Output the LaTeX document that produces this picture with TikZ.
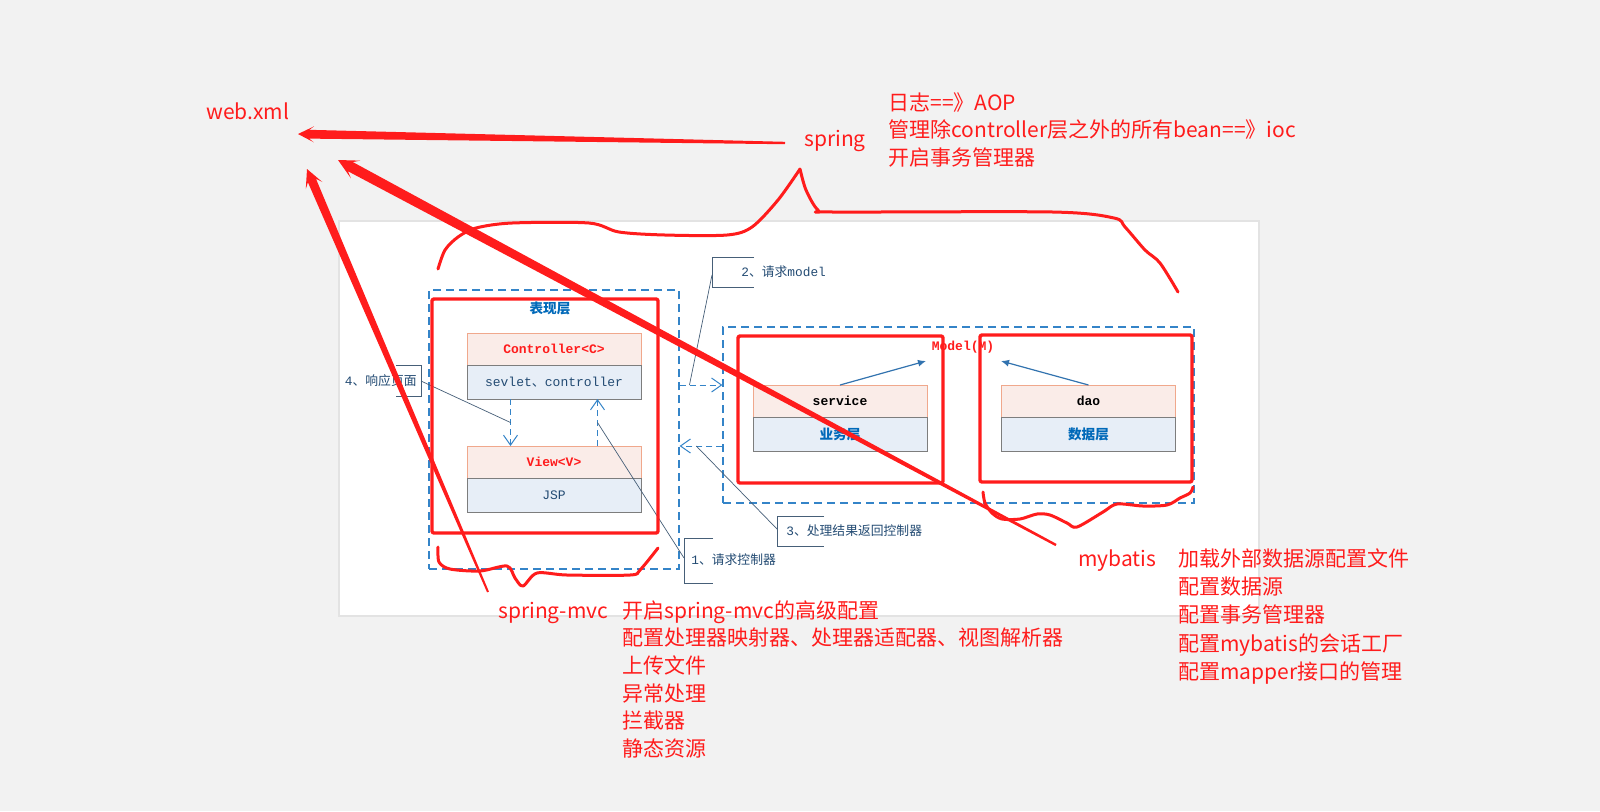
\documentclass[tikz,border=0pt]{standalone}
\usepackage{fontspec}
\setmainfont{Noto Sans CJK SC}
\newfontfamily\mono{Liberation Mono}
\usetikzlibrary{positioning,calc,arrows.meta}

\definecolor{bggray}{RGB}{242,242,242}
\definecolor{penred}{RGB}{255,28,28}
\definecolor{dashblue}{RGB}{52,132,200}
\definecolor{salmon}{RGB}{240,168,140}
\definecolor{pinkfill}{RGB}{250,236,232}
\definecolor{boxgray}{RGB}{125,125,125}
\definecolor{bluefill}{RGB}{231,238,247}
\definecolor{labelblue}{RGB}{0,105,185}
\definecolor{inkblue}{RGB}{35,75,115}
\definecolor{slate}{RGB}{70,95,120}
\definecolor{arrowblue}{RGB}{50,115,175}

\tikzset{
  redbox/.style={draw=penred, line width=1.7pt, line join=round, rounded corners=1pt},
  scrawl/.style={draw=penred, line width=1.5pt, line cap=round, line join=round},
  note/.style={text=penred, inner sep=0pt, align=left, anchor=base west, font=\fontsize{10.5pt}{13.85pt}\selectfont},
  grp/.style={draw=dashblue, dash pattern=on 4pt off 2.5pt, line width=0.6pt, inner sep=0pt},
  headbox/.style={draw=salmon, fill=pinkfill, minimum width=87pt, minimum height=16pt, inner sep=0pt, outer sep=0pt, font=\mono\bfseries\fontsize{6.5pt}{8pt}\selectfont},
  bodybox/.style={draw=boxgray, fill=bluefill, minimum width=87pt, minimum height=17pt, inner sep=0pt, outer sep=0pt, text=inkblue, font=\fontsize{6.5pt}{8pt}\selectfont},
  layerlbl/.style={text=labelblue, font=\bfseries\fontsize{6.8pt}{8pt}\selectfont},
  flow/.style={draw=dashblue, dash pattern=on 3pt off 2pt, line width=0.5pt, -{Straight Barb[length=5pt,width=7pt]}},
  uses/.style={draw=arrowblue, line width=0.6pt, -{Latex[length=4pt,width=3.5pt]}},
  callout/.style={text=inkblue, inner sep=0pt, font=\fontsize{6.4pt}{8pt}\selectfont},
  bracket/.style={draw=slate, line width=0.5pt},
  leader/.style={draw=slate, line width=0.35pt}
}

\newcommand{\brush}[5]{%
  \coordinate (bw) at ($(#2)!2*#5!(#1)$);
  \coordinate (bn) at ($(#2)!1.4*#5!(#1)$);
  \fill[penred] ($(#1)!#3!90:(#2)$) -- ($(bn)!#4!-90:(#1)$) -- ($(bw)!#5!-90:(#1)$) -- (#2)
    -- ($(bw)!#5!90:(#1)$) -- ($(bn)!#4!90:(#1)$) -- ($(#1)!#3!-90:(#2)$) -- cycle;}

\begin{document}
\begin{tikzpicture}[x=0.5pt,y=-0.5pt]
\useasboundingbox (0,0) rectangle (1600,811);
\fill[bggray] (0,0) rectangle (1600,811);
\fill[black!5] (335,217) rectangle (1263,620);
\fill[black!11] (338,220) rectangle (1260,617);
\fill[white] (340,222) rectangle (1258,615);

\node[grp, minimum width=125pt, minimum height=139.5pt] (grpV) at (554,429.5) {};
\node[grp, minimum width=235.5pt, minimum height=88pt] (grpM) at (958.5,415) {};
\node[layerlbl] (presLbl) at (550,308) {表现层};
\node[text=penred, font=\mono\bfseries\fontsize{6.5pt}{8pt}\selectfont] (modelLbl) at (963,347) {Model(M)};

\node[headbox, text=penred] (ctrlT) at (554,349) {Controller<C>};
\node[bodybox, below=0pt of ctrlT] (ctrlB) {\mono sevlet{\rmfamily 、}controller};
\node[headbox, text=penred] (viewT) at (554,462) {View<V>};
\node[bodybox, below=0pt of viewT] (viewB) {\mono JSP};
\node[headbox] (svcT) at (840,401) {service};
\node[bodybox, below=0pt of svcT, layerlbl] (svcB) {业务层};
\node[headbox] (daoT) at (1088.5,401) {dao};
\node[bodybox, below=0pt of daoT, layerlbl] (daoB) {数据层};

\draw[flow] ($(ctrlB.south west)!0.25!(ctrlB.south east)$) -- coordinate (dnMid) ($(viewT.north west)!0.25!(viewT.north east)$);
\draw[flow] ($(viewT.north west)!0.75!(viewT.north east)$) -- coordinate (upMid) ($(ctrlB.south west)!0.75!(ctrlB.south east)$);
\draw[flow] (grpV.east |- 0,385) -- coordinate[pos=0.23] (reqMid) (grpM.west |- 0,385);
\draw[flow] (grpM.west |- 0,446) -- coordinate[pos=0.61] (retMid) (grpV.east |- 0,446);
\draw[uses] (svcT.north) -- ($(modelLbl)+(-37,14)$);
\draw[uses] (daoT.north) -- ($(modelLbl)+(38,14)$);

\node[callout, anchor=west] (c1) at (691,560) {{\mono 1}、请求控制器};
\node[callout, anchor=west] (c2) at (741,272) {{\mono 2}、请求{\mono model}};
\node[callout, anchor=west] (c3) at (786,531) {{\mono 3}、处理结果返回控制器};
\node[callout, anchor=east] (c4) at (417,381) {{\mono 4}、响应页面};
\draw[bracket] (713,538) -| (684,583) -- (713,583);
\draw[bracket] (754,257) -| (712,287) -- (754,287);
\draw[bracket] (824,516) -| (777,546) -- (824,546);
\draw[bracket] (396,365) -| (421,396) -- (396,396);
\draw[leader] (684,558) -- (upMid);
\draw[leader] (712,275) -- (reqMid);
\draw[leader] (777,529) -- (retMid);
\draw[leader] (421,381) -- (dnMid);

\draw[redbox] (432,299) rectangle (658,533);
\draw[redbox] (738,336) rectangle (943,483);
\draw[redbox] (980,335) rectangle (1192,482);

\draw[scrawl] plot[smooth, tension=0.5] coordinates {(438,269) (445,250) (458,237) (476,228) (512,223) (589,223) (619,232) (665,235) (727,235) (752,227) (778,200) (800,169)};
\draw[scrawl] plot[smooth, tension=0.5] coordinates {(800,169) (806,190) (818,210) (834,212) (1053,212) (1114,218) (1125,227) (1145,250) (1160,263) (1178,292)};
\draw[scrawl] plot[smooth, tension=0.5] coordinates {(438,547) (439,562) (450,569) (480,571) (507,566) (515,578) (523,586) (537,573) (567,575) (630,575) (640,570) (658,548)};
\draw[scrawl] plot[smooth, tension=0.5] coordinates {(983,492) (985,503) (992,513) (1002,519) (1020,519) (1037,514) (1050,515) (1067,523) (1077,527) (1103,512) (1117,504) (1143,506) (1167,505) (1180,498) (1190,493) (1193,487)};

\node[note] (webxml) at (206,119) {web.xml};
\node[note] (springLbl) at (804,146) {spring};
\node[note] (springNotes) at (888,165.5) {日志==》AOP\\管理除controller层之外的所有bean==》ioc\\开启事务管理器};
\node[note] (mvcLbl) at (498,618) {spring-mvc};
\node[note] (mvcNotes) at (622,756.5) {开启spring-mvc的高级配置\\配置处理器映射器、处理器适配器、视图解析器\\上传文件\\异常处理\\拦截器\\静态资源};
\node[note] (mybLbl) at (1078,566) {mybatis};
\node[note, font=\fontsize{10.5pt}{14.2pt}\selectfont] (mybNotes) at (1178,679.6) {加载外部数据源配置文件\\配置数据源\\配置事务管理器\\配置mybatis的会话工厂\\配置mapper接口的管理};

\coordinate (springTail) at (785,143);
\coordinate (springTip) at (298,134);
\coordinate (mybTail) at (1056,545);
\coordinate (mybTip) at (338,160);
\coordinate (mvcTail) at (488,592);
\coordinate (mvcTip) at (307,169);
\brush{springTail}{springTip}{0.6pt}{2.2pt}{4pt}
\brush{mybTail}{mybTip}{0.6pt}{2.6pt}{5pt}
\brush{mvcTail}{mvcTip}{0.5pt}{2.2pt}{4.5pt}
\end{tikzpicture}
\end{document}
